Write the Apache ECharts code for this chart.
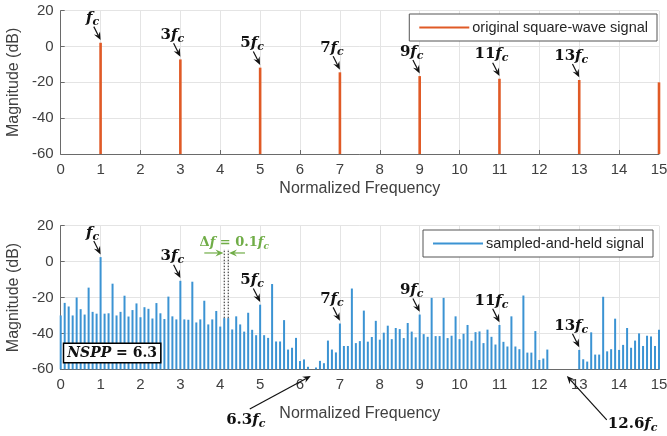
<!DOCTYPE html>
<html>
<head>
<meta charset="utf-8">
<script src="https://cdn.jsdelivr.net/npm/echarts@6/dist/echarts.min.js"></script>
<style>
  html, body { margin: 0; background: #fff; }
  #chart { width: 667px; height: 436px; }
</style>
</head>
<body>
<div id="chart"></div>
<script>
// odd harmonics of the square wave (top panel)
const harmonics = [1, 3, 5, 7, 9, 11, 13, 15];
const squareWaveDb = [2.1, -7.2, -11.8, -14.4, -16.5, -18, -18.7, -20];

// sampled-and-held spectrum, one value every 0.1 fc from 0 to 15 (null = below -60 dB)
const sampledStep = 0.1;
const sampledDb = [
  -30, -23, -25, -30, -20, -26.5, -29.5, -14.5, -28, -29,
  2.5, -29, -28.8, -12.3, -30, -28, -19, -30.6, -27, -23.3,
  -31, -25.4, -26.3, -31.7, -23.1, -28.8, -32, -19.5, -30.5, -32.2,
  -10.7, -32.2, -32.4, -11.2, -33.9, -32.2, -21.8, -35, -32.2, -27.5,
  -36.2, -31.5, -31.5, -37.8, -30.5, -35, -39, -28.5, -38, -41,
  -24, -41, -42.5, -12.5, -44.5, -44.5, -32.6, -49, -48, -42.5,
  -55.4, -54.5, -58.6, null, -59, -55.3, -56.6, -44, -49, -50.6,
  -34.5, -47, -47, -15, -45.4, -44.3, -27.3, -44.6, -42, -33,
  -43.5, -39.6, -35.7, -43.2, -37, -37.6, -42.6, -34.2, -39, -42.2,
  -29.5, -40.4, -41.9, -20.2, -41.5, -41.5, -20.2, -42.6, -41.3, -30.5,
  -43.2, -40.2, -35.3, -44.1, -39.3, -38.9, -45.4, -37.9, -41.9, -46.2,
  -35.3, -44.7, -47.3, -30.5, -47.3, -48.8, -18.9, -50.7, -50.7, -38.7,
  -54.8, -54, -49, null, null, null, null, null, null, null,
  -49.2, -54.4, -55.7, -39.4, -51.8, -51.8, -19.6, -50, -48.8, -31.8,
  -49.2, -46.4, -37, -48, -44, -40, -47, -41.3, -41.7, -47,
  -38
];

// harmonics that get an "n fc" callout in each panel
const labelledHarmonics = [1, 3, 5, 7, 9, 11, 13];

const SANS = "'Liberation Sans', Arial, sans-serif";
const SERIF = "'DejaVu Serif', serif";
const TEXT = '#404040';
const AXIS = '#6a6a6a';
const GRID = '#e4e4e4';
const ORANGE = '#e05a26';
const BLUE = '#3b93d3';
const GREEN = '#70ad47';
const INK = '#111';

function stem(width) {
  return function (params, api) {
    const x = api.value(0);
    const top = api.coord([x, api.value(1)]);
    const base = api.coord([x, -60]);
    const h = base[1] - top[1];
    if (!(h > 0)) return null;
    return {
      type: 'rect',
      shape: { x: top[0] - width / 2, y: top[1], width: width, height: h },
      style: { fill: api.visual('color') }
    };
  };
}

function xAxisFor(gridIndex, nameGap) {
  return {
    type: 'value', gridIndex, min: 0, max: 15, interval: 1,
    name: 'Normalized Frequency', nameLocation: 'middle', nameGap,
    nameTextStyle: { fontSize: 16, color: TEXT, fontFamily: SANS },
    axisLine: { show: true, onZero: false, lineStyle: { color: AXIS } },
    axisTick: { show: true, inside: true, length: 4, lineStyle: { color: AXIS } },
    axisLabel: { fontSize: 15, color: TEXT, margin: 8, fontFamily: SANS },
    splitLine: { show: true, lineStyle: { color: GRID } }
  };
}

function yAxisFor(gridIndex) {
  return {
    type: 'value', gridIndex, min: -60, max: 20, interval: 20,
    name: 'Magnitude (dB)', nameLocation: 'middle', nameGap: 33,
    nameTextStyle: { fontSize: 16, color: TEXT, fontFamily: SANS },
    axisLine: { show: true, lineStyle: { color: AXIS } },
    axisTick: { show: true, inside: true, length: 4, lineStyle: { color: AXIS } },
    axisLabel: { fontSize: 15, color: TEXT, margin: 7, fontFamily: SANS },
    splitLine: { show: true, lineStyle: { color: GRID } }
  };
}

function legendFor(name, top, right) {
  return {
    data: [name], top, right, orient: 'horizontal',
    icon: 'rect', itemWidth: 50, itemHeight: 2, itemGap: 4,
    backgroundColor: '#fff', borderColor: '#555', borderWidth: 1,
    padding: [6, 9, 6, 10], selectedMode: false,
    textStyle: { fontSize: 14.5, color: '#262626', fontFamily: SANS, padding: [0, 0, 0, -2] }
  };
}

const chart = echarts.init(document.getElementById('chart'));

chart.setOption({
  animation: false,
  backgroundColor: '#fff',
  grid: [
    { left: 60.7, right: 8, top: 10.7, height: 143.3, outerBoundsMode: 'none' },
    { left: 60.7, right: 8, top: 225.7, height: 143.6, outerBoundsMode: 'none' }
  ],
  xAxis: [xAxisFor(0, 27), xAxisFor(1, 36)],
  yAxis: [yAxisFor(0), yAxisFor(1)],
  legend: [
    legendFor('original square-wave signal', 14, 10),
    legendFor('sampled-and-held signal', 230, 14)
  ],
  series: [
    {
      type: 'custom', name: 'original square-wave signal',
      xAxisIndex: 0, yAxisIndex: 0,
      itemStyle: { color: ORANGE },
      renderItem: stem(2.6),
      data: harmonics.map((n, i) => [n, squareWaveDb[i]])
    },
    {
      type: 'custom', name: 'sampled-and-held signal',
      xAxisIndex: 1, yAxisIndex: 1,
      itemStyle: { color: BLUE },
      renderItem: stem(2),
      data: sampledDb.map((v, i) => [+(i * sampledStep).toFixed(1), v])
    }
  ]
});

// ---- annotations, placed in data coordinates through the axes ----
function toPx(grid, pt) {
  return chart.convertToPixel({ gridIndex: grid }, pt);
}

function richFor(size, color) {
  return {
    n: { fontFamily: SERIF, fontWeight: 'bold', fontSize: size, lineHeight: size + 4, fill: color },
    i: { fontFamily: SERIF, fontWeight: 'bold', fontStyle: 'italic', fontSize: size, lineHeight: size + 4, fill: color },
    s: { fontFamily: SERIF, fontWeight: 'bold', fontStyle: 'italic', fontSize: Math.round(size * 0.72), lineHeight: Math.round(size * 0.5), verticalAlign: 'bottom', fill: color }
  };
}

function mathText(grid, pt, text, size, color, extra) {
  const p = toPx(grid, pt);
  return {
    type: 'text', x: p[0], y: p[1], z: 50,
    style: Object.assign({ text, rich: richFor(size, color), align: 'center', verticalAlign: 'middle' }, extra || {})
  };
}

function arrow(grid, from, to, color) {
  const a = toPx(grid, from), b = toPx(grid, to);
  const ang = Math.atan2(b[1] - a[1], b[0] - a[0]);
  const cos = Math.cos(ang), sin = Math.sin(ang);
  const len = 8, half = 3.4;
  const bx = b[0] - len * cos, by = b[1] - len * sin;
  const nx = b[0] - len * 0.65 * cos, ny = b[1] - len * 0.65 * sin;
  return [
    { type: 'line', z: 50, shape: { x1: a[0], y1: a[1], x2: nx, y2: ny }, style: { stroke: color, lineWidth: 1.2 } },
    { type: 'polygon', z: 50, shape: { points: [b, [bx - sin * half, by + cos * half], [nx, ny], [bx + sin * half, by - cos * half]] }, style: { fill: color } }
  ];
}

function harmonicCallouts(grid, valueOf) {
  const out = [];
  labelledHarmonics.forEach(n => {
    const v = valueOf(n);
    const label = n === 1 ? '{i|f}{s|c}' : '{n|' + n + '}{i|f}{s|c}';
    out.push(mathText(grid, [n - 0.2, v + 13.5], label, 15, INK));
    out.push(...arrow(grid, [n - 0.17, v + 9], [n, v + 1.5], INK));
  });
  return out;
}

const graphics = [];
graphics.push(...harmonicCallouts(0, n => squareWaveDb[harmonics.indexOf(n)]));
graphics.push(...harmonicCallouts(1, n => sampledDb[Math.round(n / sampledStep)]));

// frequency resolution marker between the 4.1 and 4.2 bins
[4.1, 4.2].forEach(f => {
  const a = toPx(1, [f, sampledDb[Math.round(f / sampledStep)]]), b = toPx(1, [f, 7]);
  graphics.push({ type: 'line', z: 50, shape: { x1: a[0], y1: a[1], x2: b[0], y2: b[1] }, style: { stroke: '#222', lineWidth: 1, lineDash: [1.5, 1.5] } });
});
graphics.push(...arrow(1, [3.6, 4.8], [4.08, 4.8], GREEN));
graphics.push(...arrow(1, [4.62, 4.8], [4.22, 4.8], GREEN));
graphics.push(mathText(1, [4.35, 10.8], '{n|Δ}{i|f}{n| = 0.1}{i|f}{s|c}', 13, GREEN));

// NSPP box
graphics.push(mathText(1, [1.29, -50.9], '{i|NSPP}{n| = 6.3}', 14, INK, {
  backgroundColor: '#fff', borderColor: '#000', borderWidth: 1.5, padding: [0, 3, 0, 3]
}));

// folding points below the axis
graphics.push(mathText(1, [4.64, -88.2], '{n|6.3}{i|f}{s|c}', 15, INK));
graphics.push(...arrow(1, [4.74, -82.1], [6.27, -63.7], INK));
graphics.push(mathText(1, [14.34, -90.4], '{n|12.6}{i|f}{s|c}', 15, INK));
graphics.push(...arrow(1, [13.69, -88.2], [12.69, -63.7], INK));

chart.setOption({ graphic: graphics });
</script>
</body>
</html>
